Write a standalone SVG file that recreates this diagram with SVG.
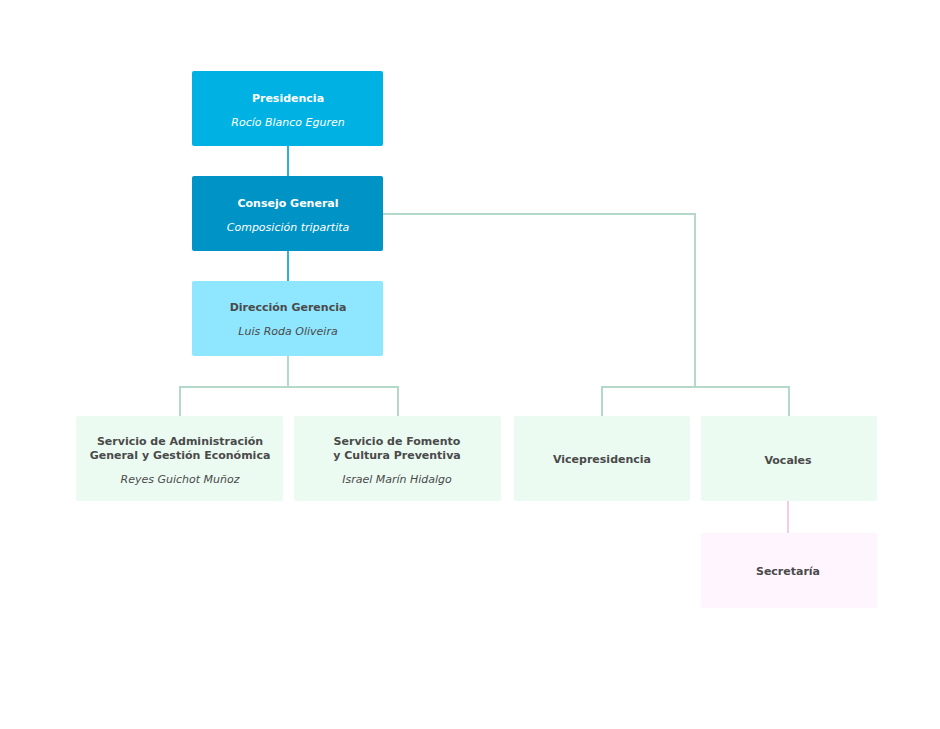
<svg xmlns="http://www.w3.org/2000/svg" width="940" height="729" viewBox="0 0 940 729">
<style>
.t{font-family:"DejaVu Sans",Verdana,sans-serif;font-size:11px;text-anchor:middle}
.b{font-weight:bold}
.i{font-style:italic}
.w{fill:#ffffff}
.d{fill:#4a4a4a}
.g{fill:#ebfbf2}
.c{fill:none;stroke-width:2}
</style>
<rect width="940" height="729" fill="#ffffff"/>
<g id="connectors">
<path class="c" stroke="#2eb2dc" d="M288 146V176M288 251V281"/>
<path class="c" stroke="#b5d9c8" d="M288 356V387M180 416V387H398V416M383 214H695V387M602 416V387H789V416"/>
<path class="c" stroke="#f5cde9" d="M788 501V533"/>
</g>
<g id="presidencia">
<rect x="192" y="71" width="191" height="75" rx="2" fill="#00b2e3"/>
<text class="t b w" x="288" y="102">Presidencia</text>
<text class="t i w" x="288" y="126">Rocío Blanco Eguren</text>
</g>
<g id="consejo">
<rect x="192" y="176" width="191" height="75" rx="2" fill="#0093c6"/>
<text class="t b w" x="288" y="207">Consejo General</text>
<text class="t i w" x="288" y="231">Composición tripartita</text>
</g>
<g id="direccion">
<rect x="192" y="281" width="191" height="75" rx="2" fill="#8fe6ff"/>
<text class="t b d" x="288" y="311">Dirección Gerencia</text>
<text class="t i d" x="288" y="335">Luis Roda Oliveira</text>
</g>
<g id="admin">
<rect class="g" x="76" y="416" width="207" height="85" rx="2"/>
<text class="t b d" x="180" y="445">Servicio de Administración</text>
<text class="t b d" x="180" y="459">General y Gestión Económica</text>
<text class="t i d" x="180" y="483">Reyes Guichot Muñoz</text>
</g>
<g id="fomento">
<rect class="g" x="294" y="416" width="207" height="85" rx="2"/>
<text class="t b d" x="397" y="445">Servicio de Fomento</text>
<text class="t b d" x="397" y="459">y Cultura Preventiva</text>
<text class="t i d" x="397" y="483">Israel Marín Hidalgo</text>
</g>
<g id="vicepresidencia">
<rect class="g" x="514" y="416" width="176" height="85" rx="2"/>
<text class="t b d" x="602" y="463">Vicepresidencia</text>
</g>
<g id="vocales">
<rect class="g" x="701" y="416" width="176" height="85" rx="2"/>
<text class="t b d" x="788" y="464">Vocales</text>
</g>
<g id="secretaria">
<rect x="701" y="533" width="176" height="75" rx="2" fill="#fef5fe"/>
<text class="t b d" x="788" y="575">Secretaría</text>
</g>
</svg>
